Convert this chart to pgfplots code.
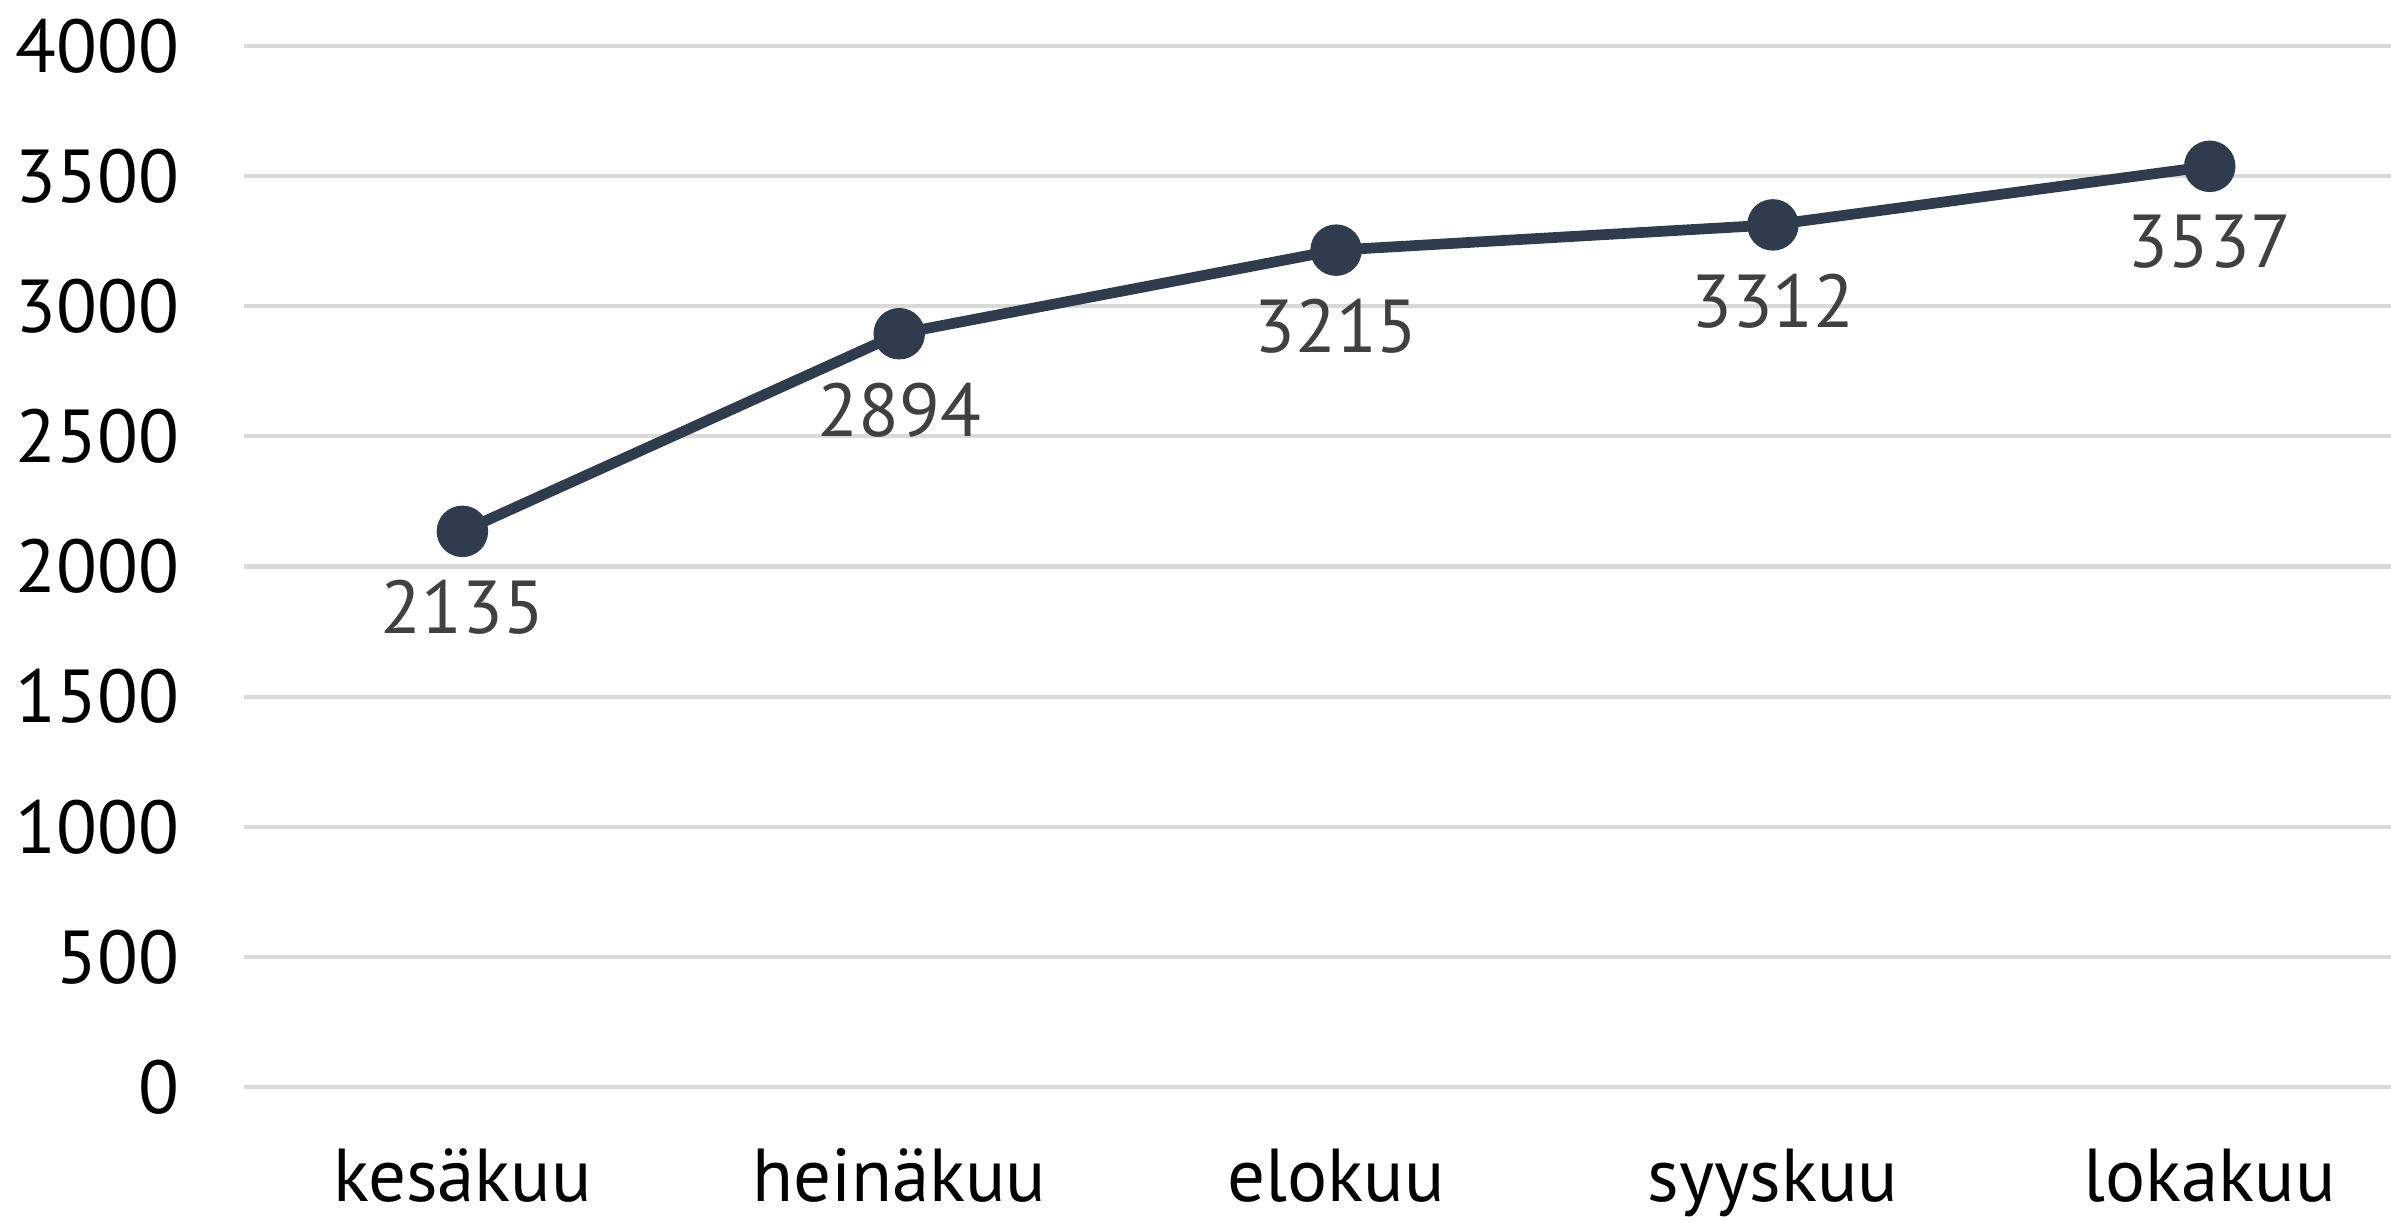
\documentclass[border=0pt]{standalone}
\usepackage{fontspec}
\setmainfont{PT Sans}
\usepackage{pgfplots}
\pgfplotsset{compat=1.18}
\definecolor{linecol}{HTML}{2F3C4D}
\definecolor{gridcol}{HTML}{D9D9D9}
\definecolor{lblcol}{HTML}{404040}
\begin{document}
\begin{tikzpicture}
\begin{axis}[
    scale only axis,
    width=14.08cm, height=6.83cm,
    xmin=-0.5, xmax=4.415,
    ymin=0, ymax=4000,
    axis line style={draw=none},
    major tick length=0pt,
    ytick={0,500,...,4000},
    xtick={0,1,2,3,4},
    xticklabels={kesäkuu,heinäkuu,elokuu,syyskuu,lokakuu},
    ymajorgrids,
    grid style={gridcol, line width=0.8pt},
    /pgf/number format/assume math mode=true,
    /pgf/number format/set thousands separator={},
    tick label style={font=\fontsize{14}{17}\selectfont, black},
    yticklabel style={xshift=-0.3cm},
    xticklabel style={yshift=-0.28cm},
    nodes near coords,
    every node near coord/.append style={anchor=north, yshift=-0.17cm,
        font=\fontsize{14}{17}\selectfont, text=lblcol},
    clip=false,
]
\addplot[color=linecol, line width=2pt, mark=*, mark size=3.8pt,
    mark options={fill=linecol, draw=linecol}] coordinates {
    (0,2135) (1,2894) (2,3215) (3,3312) (4,3537)
};
\end{axis}
\pgfresetboundingbox
\path[use as bounding box] (-1.60,-0.89) rectangle (14.08,7.13);
\end{tikzpicture}
\end{document}
